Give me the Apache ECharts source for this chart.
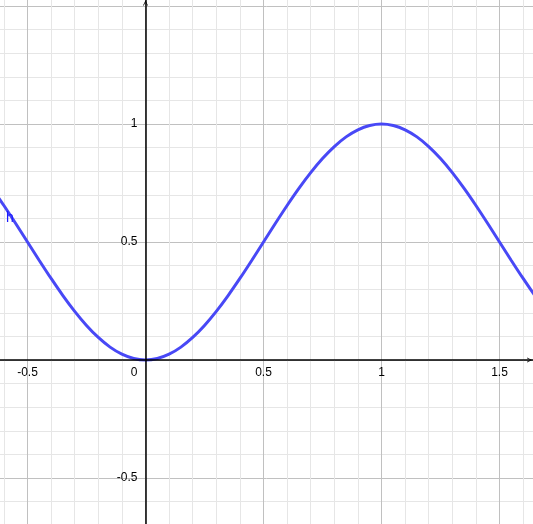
<!DOCTYPE html>
<html><head><meta charset="utf-8">
<script src="https://cdn.jsdelivr.net/npm/echarts@6/dist/echarts.min.js"></script>
<style>html,body{margin:0;padding:0;background:#fff}#c{width:533px;height:524px}</style>
</head><body><div id="c"></div>
<script>
// visible window of the plot
const xRange = [-0.6165, 1.6419];
const yRange = [-0.6949, 1.5254];
// tick labels
const xTickLabels = [-0.5, 0, 0.5, 1, 1.5];
const yTickLabels = [-0.5, 0.5, 1];
const curveName = 'h';
// curve samples
const xValues = [-0.65,-0.6,-0.55,-0.5,-0.45,-0.4,-0.35,-0.3,-0.25,-0.2,-0.15,-0.1,-0.05,0,
  0.05,0.1,0.15,0.2,0.25,0.3,0.35,0.4,0.45,0.5,0.55,0.6,0.65,0.7,0.75,0.8,0.85,0.9,0.95,1,
  1.05,1.1,1.15,1.2,1.25,1.3,1.35,1.4,1.45,1.5,1.55,1.6,1.65,1.7];
const hValues = [0.727,0.6545,0.5782,0.5,0.4218,0.3455,0.273,0.2061,0.1464,0.0955,0.0545,0.0245,0.0062,0,
  0.0062,0.0245,0.0545,0.0955,0.1464,0.2061,0.273,0.3455,0.4218,0.5,0.5782,0.6545,0.727,0.7939,0.8536,0.9045,0.9455,0.9755,0.9938,1,
  0.9938,0.9755,0.9455,0.9045,0.8536,0.7939,0.727,0.6545,0.5782,0.5,0.4218,0.3455,0.273,0.2061];

const W = 533, H = 524;
const FONT = 'Liberation Sans, Arial, sans-serif';
const CURVE = '#4848f6';
const LABEL_BLUE = '#1c1cff';
const MAJOR = '#c0c0c0';
const MINOR = '#e6e6e6';
const ARROW = 'path://M0,10L5,0L10,10L8.4,10L5,3.2L1.6,10Z';

function inList(list, v) { return list.some(t => Math.abs(t - v) < 1e-9); }
// distance (px) of the zero lines from the grid's bottom / left edges
const zeroFromBottom = (0 - yRange[0]) / (yRange[1] - yRange[0]) * H;
const zeroFromLeft = (0 - xRange[0]) / (xRange[1] - xRange[0]) * W;

const chart = echarts.init(document.getElementById('c'), null, {renderer: 'canvas'});
const gridAxisCommon = {
  type: 'value', minInterval: 0.5, maxInterval: 0.5, splitNumber: 4,
  axisLine: {show: false, onZero: false}, axisTick: {show: false}, axisLabel: {show: false},
  splitLine: {show: true, showMinLine: false, showMaxLine: false, lineStyle: {color: MAJOR, width: 1}},
  minorTick: {show: false, splitNumber: 5},
  minorSplitLine: {show: true, lineStyle: {color: MINOR, width: 1}},
  z: 0
};
const labelAxisCommon = {
  type: 'value', minInterval: 0.5, maxInterval: 0.5, splitNumber: 4,
  axisTick: {show: false}, splitLine: {show: false}, minorSplitLine: {show: false},
  z: 5
};
chart.setOption({
  animation: false,
  backgroundColor: '#fff',
  grid: {left: 0, right: 0, top: 0, bottom: 0, containLabel: false, outerBoundsMode: 'none'},
  xAxis: [
    Object.assign({}, gridAxisCommon, {position: 'top', min: xRange[0], max: xRange[1]}),
    Object.assign({}, labelAxisCommon, {
      position: 'bottom', offset: -zeroFromBottom, min: xRange[0], max: xRange[1],
      axisLine: {show: true, onZero: false,
        lineStyle: {color: '#000', width: 1.5},
        symbol: ['none', ARROW], symbolSize: [9, 5], symbolOffset: [0, -3.5]},
      axisLabel: {show: true, margin: 7, color: '#000', fontFamily: FONT, fontSize: 12,
        showMinLabel: false, showMaxLabel: false, hideOverlap: false,
        formatter: v => Math.abs(v) < 1e-9 ? '{z|0}' : (inList(xTickLabels, v) ? String(v) : ''),
        rich: {z: {fontFamily: FONT, fontSize: 12, color: '#000', padding: [0, 23, 0, 0]}}}
    })
  ],
  yAxis: [
    Object.assign({}, gridAxisCommon, {position: 'right', min: yRange[0], max: yRange[1]}),
    Object.assign({}, labelAxisCommon, {
      position: 'left', offset: -zeroFromLeft, min: yRange[0], max: yRange[1],
      axisLine: {show: true, onZero: false,
        lineStyle: {color: '#000', width: 1.5},
        symbol: ['none', ARROW], symbolSize: [9, 5], symbolOffset: [0, -3]},
      axisLabel: {show: true, margin: 8, color: '#000', fontFamily: FONT, fontSize: 12,
        showMinLabel: false, showMaxLabel: false, hideOverlap: false,
        formatter: v => inList(yTickLabels, v) ? String(v) : ''}
    })
  ],
  graphic: [{type: 'text', left: 6, top: 211, z: 100, zlevel: 0,
    style: {text: curveName, fill: LABEL_BLUE, font: '14px ' + FONT}}],
  series: [{
    type: 'line', name: curveName, xAxisIndex: 0, yAxisIndex: 0,
    data: xValues.map((x, i) => [x, hValues[i]]),
    showSymbol: false, smooth: 0.3, clip: true, z: 2,
    lineStyle: {color: CURVE, width: 3}
  }]
});
</script></body></html>
